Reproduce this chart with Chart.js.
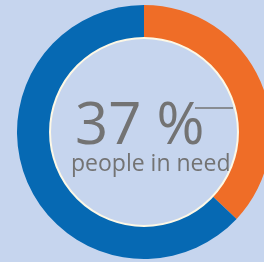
<!DOCTYPE html>
<html>
<head>
<meta charset="utf-8">
<script src="https://cdn.jsdelivr.net/npm/chart.js@4/dist/chart.umd.min.js"></script>
<style>
  html, body { margin: 0; padding: 0; background: #c6d5ee; overflow: hidden; width: 264px; height: 262px; }
  #chart { display: block; }
</style>
</head>
<body>
<canvas id="chart" width="288" height="264"></canvas>
<script>
"use strict";

var labels = ["People in need", "Others"];
var shares = [37, 63];
var sliceColors = ["#ef6d27", "#0669b3"];
var bigLabel = "37 %";
var smallLabel = "people in need";

// inner ring line + centre text
var centreText = {
  id: "centreText",
  afterDatasetsDraw: function(chart) {
    var arc = chart.getDatasetMeta(0).data[0];
    var ctx = chart.ctx;
    var cx = arc.x, cy = arc.y;
    ctx.save();
    ctx.beginPath();
    ctx.arc(cx, cy, arc.innerRadius, 0, Math.PI * 2);
    ctx.strokeStyle = "#fdf8e6";
    ctx.lineWidth = 2;
    ctx.stroke();

    ctx.fillStyle = "#737373";
    ctx.textBaseline = "alphabetic";
    ctx.textAlign = "left";
    ctx.font = "58px 'Open Sans'";
    ctx.fillText(bigLabel, cx - 69, cy + 12);
    ctx.font = "23px 'Open Sans'";
    ctx.fillText(smallLabel, cx - 73, cy + 39);

    ctx.beginPath();
    ctx.moveTo(cx + 51, cy - 24);
    ctx.lineTo(cx + 89, cy - 24);
    ctx.strokeStyle = "#737373";
    ctx.lineWidth = 1.3;
    ctx.stroke();
    ctx.restore();
  }
};

new Chart(document.getElementById("chart"), {
  type: "doughnut",
  data: {
    labels: labels,
    datasets: [
      {
        data: shares,
        backgroundColor: sliceColors,
        borderWidth: 0
      }
    ]
  },
  options: {
    responsive: false,
    animation: false,
    cutout: "74%",
    layout: { padding: { left: 17, right: 17, top: 5, bottom: 5 } },
    plugins: {
      legend: { display: false },
      tooltip: { enabled: false }
    }
  },
  plugins: [centreText]
});
</script>
</body>
</html>
